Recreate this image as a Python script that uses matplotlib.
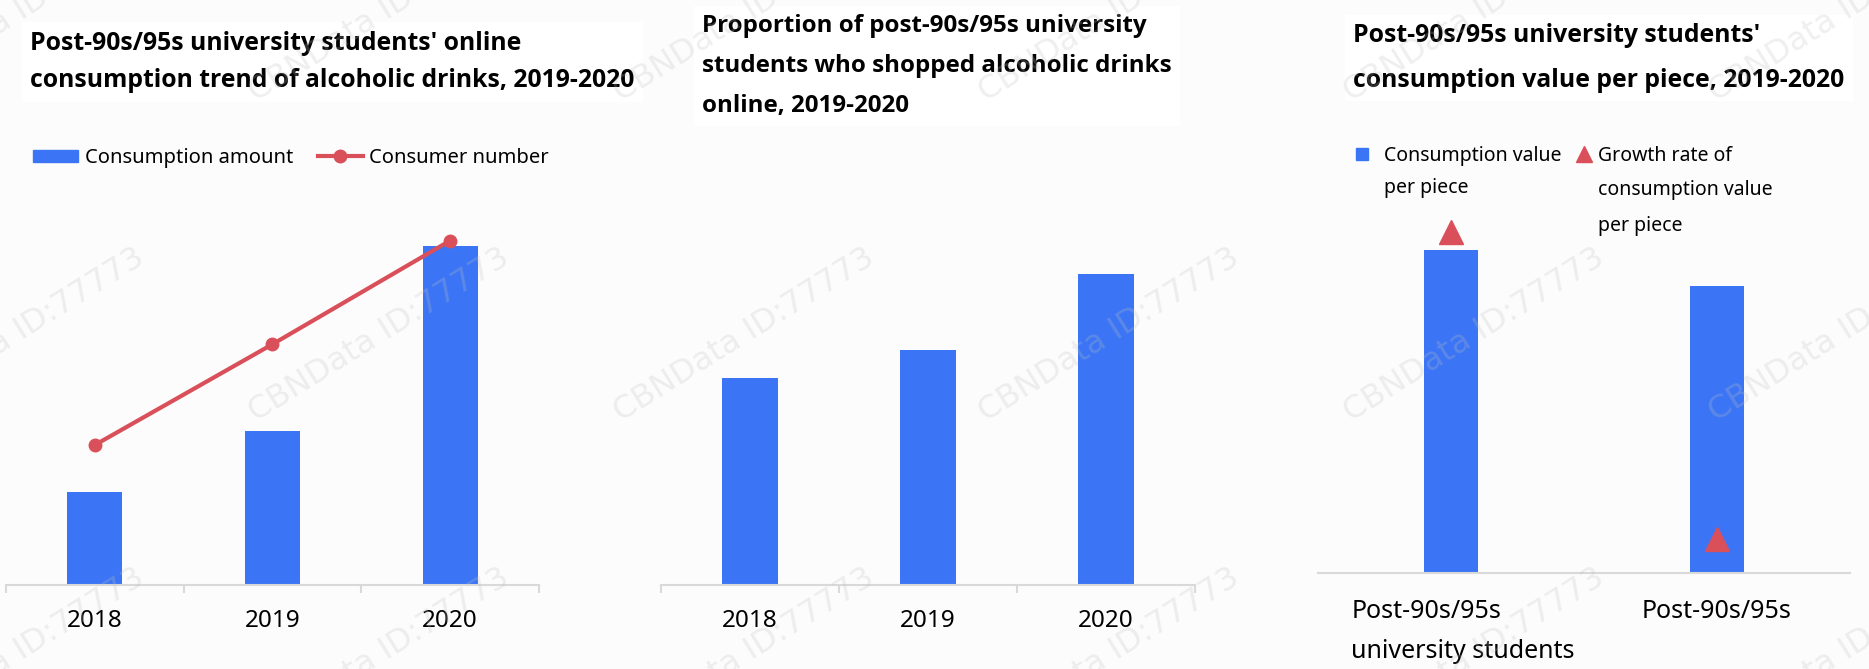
import matplotlib.pyplot as plt
from matplotlib.lines import Line2D
from matplotlib.patches import Patch
from matplotlib.transforms import ScaledTranslation

plt.rcParams['font.family'] = ['Noto Sans', 'DejaVu Sans']

W, H = 1869, 669

# data (relative values, no axis scale shown)
years = ['2018', '2019', '2020']
consumption_amount = [1.0, 1.66, 3.65]
consumer_number = [1.0, 1.72, 2.46]
shopper_share = [20.7, 23.5, 31.1]
groups = ['Post-90s/95s\nuniversity students', 'Post-90s/95s']
value_per_piece = [1.0, 0.89]
value_growth = [34.1, 3.4]

BLUE = '#3b75f5'
RED = '#d9505a'
AXIS = '#d9d9d9'
BG = '#fcfcfc'
TITLE_FONT = ['Open Sans', 'DejaVu Sans']


def rect(left, right, top, bottom):
    # pixel box -> figure fraction
    return [left / W, 1 - bottom / H, (right - left) / W, (bottom - top) / H]


def clean(ax):
    ax.set_facecolor('none')
    for s in ['top', 'right', 'left']:
        ax.spines[s].set_visible(False)
    ax.spines['bottom'].set_color(AXIS)
    ax.spines['bottom'].set_linewidth(1.5)
    ax.set_yticks([])


def hide(ax):
    ax.set_facecolor('none')
    for s in ax.spines.values():
        s.set_visible(False)
    ax.set_yticks([])


fig = plt.figure(figsize=(W / 100, H / 100), dpi=100, facecolor=BG)

# watermarks
for wy in [15, 335, 655]:
    for wx in [14, 379, 744, 1109, 1474, 1839]:
        fig.text(wx / W, 1 - wy / H, 'CBNData ID:77773', ha='center', va='center',
                 rotation=32, fontsize=23, color='#c0c0c0', alpha=0.25,
                 family='DejaVu Sans', zorder=5)

box = dict(facecolor='white', edgecolor='none', pad=6)

# ---- panel 1: amount bars + consumer line
ax1 = fig.add_axes(rect(6, 539, 200, 585))
clean(ax1)
ax1.bar(range(len(years)), consumption_amount, width=0.31, color=BLUE)
ax1.set_xlim(-0.5, 2.5)
ax1.set_ylim(0, 4.14)
ax1.set_xticks(range(len(years)), years)
ax1.set_xticks([-0.5, 0.5, 1.5, 2.5], minor=True)
ax1.tick_params(axis='x', which='major', length=0, pad=17, labelsize=17.5)
ax1.tick_params(axis='x', which='minor', length=6, width=1.5, color=AXIS)

ax1b = ax1.twinx()
hide(ax1b)
ax1b.plot(range(len(years)), consumer_number, color=RED, lw=3, marker='o', ms=9)
ax1b.set_ylim(0, 2.75)

fig.text(30 / W, 1 - 62 / H,
         "Post-90s/95s university students' online\nconsumption trend of alcoholic drinks, 2019-2020",
         ha='left', va='center', fontsize=17.8, fontweight='bold', family=TITLE_FONT,
         linespacing=1.65, bbox=box)

fig.legend([Patch(color=BLUE), Line2D([], [], color=RED, lw=3, marker='o', ms=9)],
           ['Consumption amount', 'Consumer number'],
           loc='center left', bbox_to_anchor=(33 / W, 1 - 158 / H), ncol=2, frameon=False,
           fontsize=14.5, handlelength=2.25, handleheight=0.6, handletextpad=0.33,
           columnspacing=1.2, borderpad=0, borderaxespad=0)

# ---- panel 2: share of shoppers
ax2 = fig.add_axes(rect(661, 1195, 200, 585))
clean(ax2)
ax2.bar(range(len(years)), shopper_share, width=0.31, color=BLUE)
ax2.set_xlim(-0.5, 2.5)
ax2.set_ylim(0, 38.5)
ax2.set_xticks(range(len(years)), years)
ax2.set_xticks([-0.5, 0.5, 1.5, 2.5], minor=True)
ax2.tick_params(axis='x', which='major', length=0, pad=17, labelsize=17.5)
ax2.tick_params(axis='x', which='minor', length=6, width=1.5, color=AXIS)

fig.text(702 / W, 1 - 66 / H,
         "Proportion of post-90s/95s university\nstudents who shopped alcoholic drinks\nonline, 2019-2020",
         ha='left', va='center', fontsize=17.4, fontweight='bold', family=TITLE_FONT,
         linespacing=1.88, bbox=box)

# ---- panel 3: value per piece + growth
ax3 = fig.add_axes(rect(1318, 1850, 200, 573))
clean(ax3)
ax3.bar(range(len(groups)), value_per_piece, width=0.2, color=BLUE)
ax3.set_xlim(-0.5, 1.5)
ax3.set_ylim(0, 1.155)
ax3.set_xticks(range(len(groups)), groups)
ax3.tick_params(axis='x', length=0, pad=19, labelsize=18)
for lab in ax3.get_xticklabels():
    lab.set_multialignment('left')
    lab.set_linespacing(1.76)
# the wrapped label sits a little right of its bar in the original
first = ax3.get_xticklabels()[0]
first.set_transform(first.get_transform() + ScaledTranslation(0.12, 0, fig.dpi_scale_trans))

ax3b = ax3.twinx()
hide(ax3b)
ax3b.plot(range(len(groups)), value_growth, linestyle='none', marker='^', ms=17, color=RED)
ax3b.set_ylim(0, 37.3)

fig.text(1353 / W, 1 - 58 / H,
         "Post-90s/95s university students'\nconsumption value per piece, 2019-2020",
         ha='left', va='center', fontsize=17.8, fontweight='bold', family=TITLE_FONT,
         linespacing=2.05, bbox=box)

fig.legend([Line2D([], [], linestyle='none', marker='s', ms=9, color=BLUE)],
           ['Consumption value'],
           loc='center left', bbox_to_anchor=(1354 / W, 1 - 156 / H), frameon=False,
           fontsize=14, handlelength=0.8, handletextpad=0.75,
           borderpad=0, borderaxespad=0)
fig.legend([Line2D([], [], linestyle='none', marker='^', ms=11, color=RED)],
           ['Growth rate of'],
           loc='center left', bbox_to_anchor=(1576 / W, 1 - 156 / H), frameon=False,
           fontsize=14, handlelength=0.8, handletextpad=0.33,
           borderpad=0, borderaxespad=0)
fig.text(1384 / W, 1 - 188 / H, 'per piece', ha='left', va='center', fontsize=14)
fig.text(1598 / W, 1 - 208 / H, 'consumption value\nper piece', ha='left', va='center',
         fontsize=14, linespacing=2.12)

fig.savefig('out.png', dpi=100, facecolor=BG)
